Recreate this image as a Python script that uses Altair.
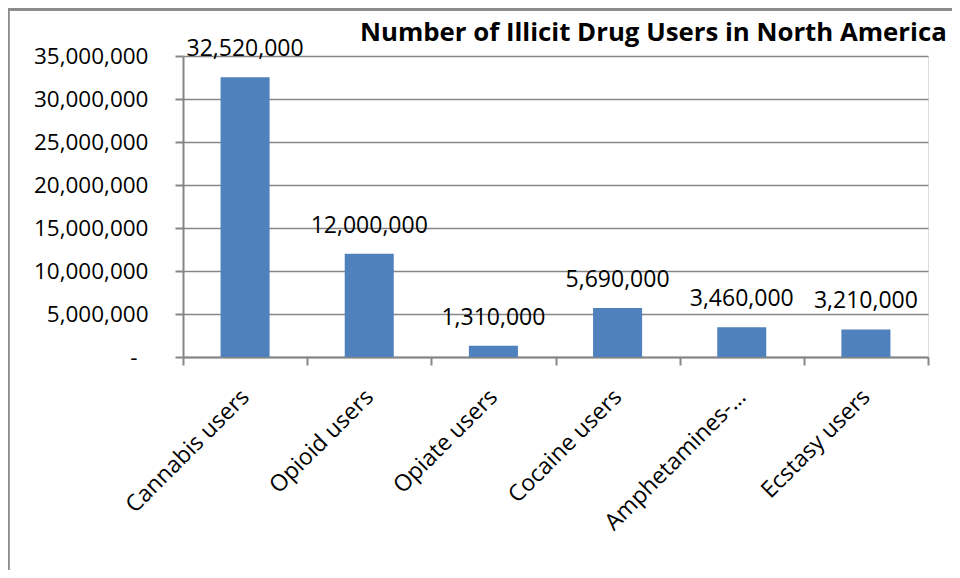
import altair as alt
import pandas as pd

categories = ["Cannabis users", "Opioid users", "Opiate users", "Cocaine users", "Amphetamines-…", "Ecstasy users"]
users = [32520000, 12000000, 1310000, 5690000, 3460000, 3210000]
y_ticks = [0, 5000000, 10000000, 15000000, 20000000, 25000000, 30000000, 35000000]
title_text = ["Number of Illicit Drug Users in North America"]

df = pd.DataFrame({"category": categories, "users": users})

FONT = "Open Sans"
GRAY = "#868686"
FS = 23

x_enc = alt.X("category:N", sort=categories, title=None,
              scale=alt.Scale(paddingInner=0, paddingOuter=0),
              axis=alt.Axis(labelAngle=-45, labelAlign="right", labelBaseline="middle",
                            labelFontSize=FS, labelFont=FONT, labelColor="black",
                            labelPadding=28, labelLimit=0, tickBand="extent", tickSize=8,
                            tickColor=GRAY, domainColor=GRAY, tickWidth=2, domainWidth=2,
                            grid=False, labelOverlap=False))
y_enc = alt.Y("users:Q", title=None,
              scale=alt.Scale(domain=[0, 35000000], nice=False),
              axis=alt.Axis(values=y_ticks,
                            labelExpr="datum.value == 0 ? '-' : format(datum.value, ',')",
                            labelFontSize=FS - 0.5, labelFont=FONT, labelColor="black",
                            labelPadding={"condition": {"test": "datum.value == 0", "value": 38}, "value": 27},
                            tickSize=8, tickColor=GRAY, domainColor=GRAY,
                            tickWidth=2, domainWidth=2, grid=True, gridColor=GRAY, gridWidth=1.5))

bars = alt.Chart(df).mark_bar(color="#4F81BD", width=alt.RelativeBandSize(0.395)).encode(x=x_enc, y=y_enc)
labels = alt.Chart(df).mark_text(dy=-28, fontSize=FS, font=FONT, color="black").encode(
    x=alt.X("category:N", sort=categories), y="users:Q", text=alt.Text("users:Q", format=","))

title_df = pd.DataFrame({"t": title_text})
title = alt.Chart(title_df).mark_text(align="left", baseline="middle", fontSize=25.8, fontWeight="bold",
                                      font=FONT, color="black", clip=False).encode(
    x=alt.value(177), y=alt.value(-23), text="t:N")

frame_left = alt.Chart(df).mark_rule(color="#8c8c8c", strokeWidth=3.5, clip=False).encode(
    x=alt.value(-175.5), y=alt.value(-48), y2=alt.value(520))
frame_top = alt.Chart(df).mark_rule(color="#8c8c8c", strokeWidth=3, clip=False).encode(
    x=alt.value(-175), x2=alt.value(780), y=alt.value(-47))

chart = alt.layer(bars, labels, title, frame_left, frame_top).properties(
    width=745, height=301,
    padding={"left": 175, "top": 48, "right": 24, "bottom": 213},
    autosize=alt.AutoSizeParams(type="none"),
).configure_view(stroke=None).configure(background="white")

chart.save("out.html", embed_options={"renderer": "svg", "actions": False})
